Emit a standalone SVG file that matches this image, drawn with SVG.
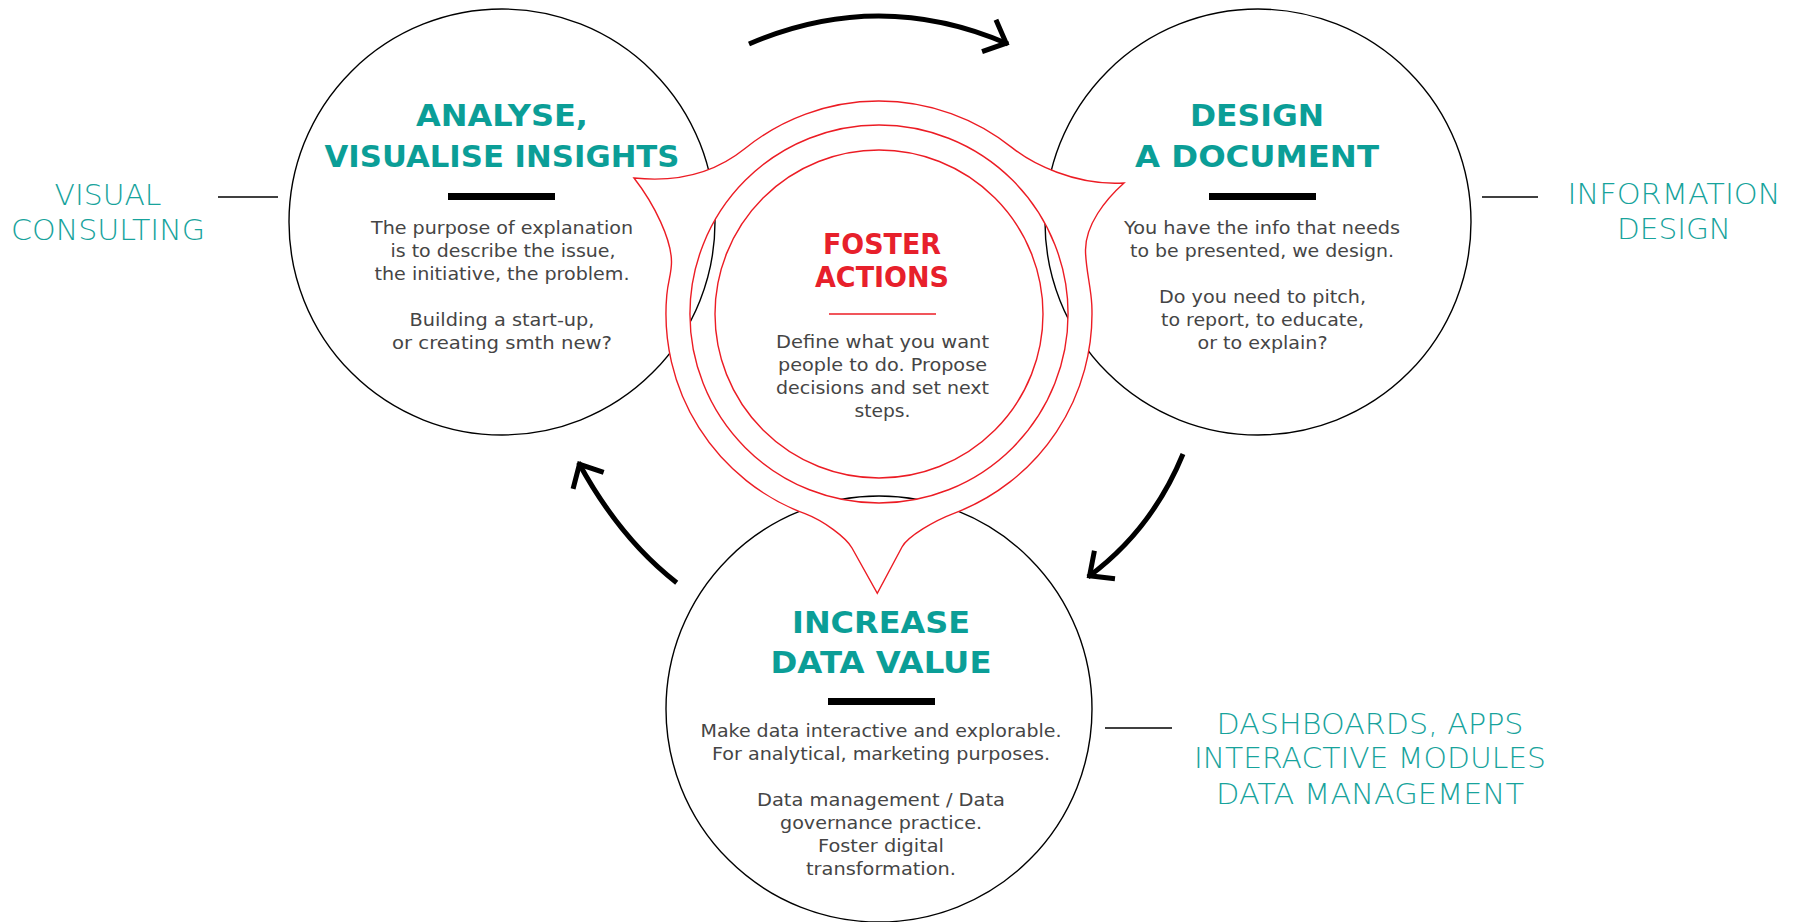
<svg xmlns="http://www.w3.org/2000/svg" width="1796" height="922" viewBox="0 0 1796 922">
<defs>
<style>
.ring{fill:none;stroke:#000;stroke-width:1.4}
.title{font-family:"DejaVu Sans","Liberation Sans",sans-serif;font-weight:bold;font-size:30.5px;fill:#0b9e97;text-anchor:middle}
.ctitle{font-family:"DejaVu Sans","Liberation Sans",sans-serif;font-weight:bold;font-size:27.5px;fill:#e7202b;text-anchor:middle}
.body{font-family:"DejaVu Sans","Liberation Sans",sans-serif;font-size:18.5px;fill:#454545;text-anchor:middle}
.side{font-family:"DejaVu Sans","Liberation Sans",sans-serif;font-weight:200;font-size:28.5px;fill:#17a39c;text-anchor:middle}
.bar{fill:#000}
.red{stroke:#ec1c24;stroke-width:1.4}
.link{stroke:#000;stroke-width:1.4;fill:none}
.arrow{fill:none;stroke:#000;stroke-width:5;marker-end:url(#head)}
</style>
<marker id="head" markerUnits="userSpaceOnUse" viewBox="-30 -25 40 50" markerWidth="40" markerHeight="50" refX="0" refY="0" orient="auto" overflow="visible">
<path d="M-20.7,-17.4 L-2,0 L-20.7,17.4" fill="none" stroke="#000" stroke-width="5" stroke-linejoin="miter"/>
</marker>
</defs>
<rect width="1796" height="922" fill="#fff"/>

<g id="connectors">
<path class="arrow" d="M749,44 Q879,-12 1008,44"/>
<path class="arrow" d="M1183,454 Q1151.6,530.4 1088,577"/>
<path class="arrow" d="M676.7,582.7 Q619.6,538.3 578.5,462.5"/>
<line class="link" x1="218" y1="197" x2="278" y2="197"/>
<line class="link" x1="1482" y1="197" x2="1538" y2="197"/>
<line class="link" x1="1105" y1="728" x2="1172" y2="728"/>
</g>

<g id="node-analyse">
<circle class="ring" cx="502" cy="222" r="213"/>
</g>
<g id="node-design">
<circle class="ring" cx="1258" cy="222" r="213"/>
</g>
<g id="node-increase">
<circle class="ring" cx="879" cy="709" r="213"/>
</g>

<g id="node-foster">
<path class="red" fill="#fff" fill-rule="evenodd" d="M745,148.5 A213,213 0 0 1 1012,147.6 C1031.5,163.2 1075,186 1124,183 C1105,200 1085.5,225 1085.5,250 C1085.5,268 1091,287 1091.8,305 A213,213 0 0 1 953.3,513.6 C934.6,520.6 907.7,536.4 902,547 L877.3,593.3 L852,548 C846,537.5 824,521 805,513.7 A213,213 0 0 1 666.8,295 C668.1,280 671.5,274 671.5,262 C671.5,240 655,205 634,178 C690,184 725.6,164.2 745,148.5 Z M879,125 A189,189 0 1 0 879,503 A189,189 0 1 0 879,125 Z"/>
<circle class="red" fill="#fff" cx="879" cy="314" r="164"/>
<text class="ctitle" x="882" y="254" textLength="118" lengthAdjust="spacingAndGlyphs">FOSTER</text>
<text class="ctitle" x="882" y="287" textLength="134" lengthAdjust="spacingAndGlyphs">ACTIONS</text>
<line x1="829" y1="314" x2="936" y2="314" stroke="#ec1c24" stroke-width="1.5"/>
<text class="body" x="882.5" y="348" textLength="213" lengthAdjust="spacingAndGlyphs">Define what you want</text>
<text class="body" x="882.5" y="371" textLength="209" lengthAdjust="spacingAndGlyphs">people to do. Propose</text>
<text class="body" x="882.5" y="394" textLength="213" lengthAdjust="spacingAndGlyphs">decisions and set next</text>
<text class="body" x="882.5" y="417" textLength="56" lengthAdjust="spacingAndGlyphs">steps.</text>
</g>

<g id="text-analyse">
<text class="title" x="502" y="126" textLength="172" lengthAdjust="spacingAndGlyphs">ANALYSE,</text>
<text class="title" x="502" y="167" textLength="355" lengthAdjust="spacingAndGlyphs">VISUALISE INSIGHTS</text>
<rect class="bar" x="448" y="193" width="107" height="7"/>
<text class="body" x="502" y="234" textLength="262" lengthAdjust="spacingAndGlyphs">The purpose of explanation</text>
<text class="body" x="503" y="257" textLength="225" lengthAdjust="spacingAndGlyphs">is to describe the issue,</text>
<text class="body" x="502" y="280" textLength="255" lengthAdjust="spacingAndGlyphs">the initiative, the problem.</text>
<text class="body" x="502" y="326" textLength="185" lengthAdjust="spacingAndGlyphs">Building a start-up,</text>
<text class="body" x="502" y="349" textLength="220" lengthAdjust="spacingAndGlyphs">or creating smth new?</text>
</g>

<g id="text-design">
<text class="title" x="1257" y="126" textLength="134" lengthAdjust="spacingAndGlyphs">DESIGN</text>
<text class="title" x="1257" y="167" textLength="244" lengthAdjust="spacingAndGlyphs">A DOCUMENT</text>
<rect class="bar" x="1209" y="193" width="107" height="7"/>
<text class="body" x="1262" y="234" textLength="276" lengthAdjust="spacingAndGlyphs">You have the info that needs</text>
<text class="body" x="1262" y="257" textLength="264" lengthAdjust="spacingAndGlyphs">to be presented, we design.</text>
<text class="body" x="1262.5" y="303" textLength="207" lengthAdjust="spacingAndGlyphs">Do you need to pitch,</text>
<text class="body" x="1262.5" y="326" textLength="203" lengthAdjust="spacingAndGlyphs">to report, to educate,</text>
<text class="body" x="1262.5" y="349" textLength="130" lengthAdjust="spacingAndGlyphs">or to explain?</text>
</g>

<g id="text-increase">
<text class="title" x="881" y="633" textLength="178" lengthAdjust="spacingAndGlyphs">INCREASE</text>
<text class="title" x="881" y="673" textLength="221" lengthAdjust="spacingAndGlyphs">DATA VALUE</text>
<rect class="bar" x="828" y="698" width="107" height="7"/>
<text class="body" x="881" y="737" textLength="361" lengthAdjust="spacingAndGlyphs">Make data interactive and explorable.</text>
<text class="body" x="881" y="760" textLength="338" lengthAdjust="spacingAndGlyphs">For analytical, marketing purposes.</text>
<text class="body" x="881" y="806" textLength="248" lengthAdjust="spacingAndGlyphs">Data management / Data</text>
<text class="body" x="881" y="829" textLength="202" lengthAdjust="spacingAndGlyphs">governance practice.</text>
<text class="body" x="881" y="852" textLength="126" lengthAdjust="spacingAndGlyphs">Foster digital</text>
<text class="body" x="881" y="875" textLength="150" lengthAdjust="spacingAndGlyphs">transformation.</text>
</g>

<g id="label-visual-consulting">
<text class="side" x="108" y="205" textLength="107" lengthAdjust="spacingAndGlyphs">VISUAL</text>
<text class="side" x="108" y="240" textLength="194" lengthAdjust="spacingAndGlyphs">CONSULTING</text>
</g>
<g id="label-information-design">
<text class="side" x="1674" y="204" textLength="213" lengthAdjust="spacingAndGlyphs">INFORMATION</text>
<text class="side" x="1674" y="239" textLength="114" lengthAdjust="spacingAndGlyphs">DESIGN</text>
</g>
<g id="label-dashboards">
<text class="side" x="1370" y="734" textLength="307" lengthAdjust="spacingAndGlyphs">DASHBOARDS, APPS</text>
<text class="side" x="1370" y="768" textLength="352" lengthAdjust="spacingAndGlyphs">INTERACTIVE MODULES</text>
<text class="side" x="1370" y="804" textLength="308" lengthAdjust="spacingAndGlyphs">DATA MANAGEMENT</text>
</g>
</svg>
